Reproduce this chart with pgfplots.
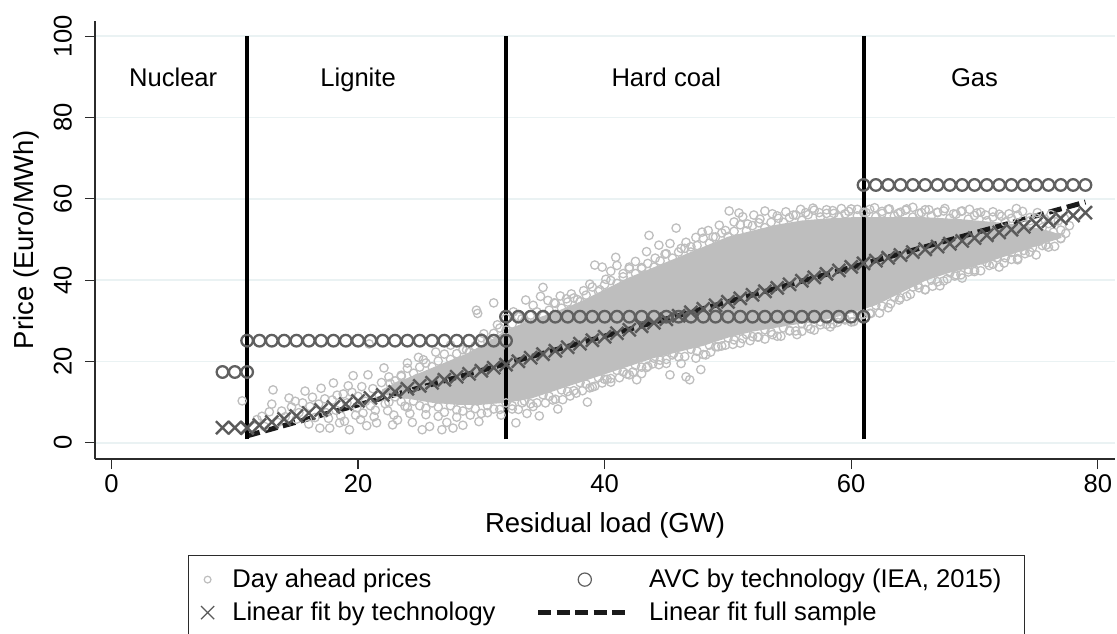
\documentclass[border=0pt]{standalone}
\usepackage{fontspec}
\setmainfont{Liberation Sans}
\usepackage{pgfplots}
\pgfplotsset{compat=1.18}
\definecolor{cloud}{HTML}{BEBEBE}
\definecolor{avc}{HTML}{606060}
\definecolor{fitc}{HTML}{5A5A5A}
\definecolor{dashc}{HTML}{1A1A1A}
\definecolor{gridc}{HTML}{EAF2F3}
\definecolor{axc}{HTML}{2B2B2B}
\newcommand{\fs}{\fontsize{12.8}{15}\selectfont}
\newcommand{\fl}{\fontsize{13.75}{16}\selectfont}
\begin{document}
\begin{tikzpicture}
\useasboundingbox (0,0) rectangle (558.5pt,316.5pt);
\clip (0,0) rectangle (558.5pt,316.5pt);
\begin{axis}[
  at={(47.5pt,87pt)}, anchor=south west,
  scale only axis, width=510pt, height=219.15pt,
  xmin=-1.34, xmax=81.4, ymin=-4.0, ymax=103.8,
  axis lines*=left,
  axis line style={draw=axc, line width=0.6pt},
  tick style={draw=axc, line width=0.6pt},
  tick align=outside, major tick length=5pt,
  xtick={0,20,40,60,80}, ytick={0,20,40,60,80,100},
  minor tick num=0,
  ymajorgrids, grid style={draw=gridc, line width=0.8pt},
  /pgf/number format/assume math mode=true,
  xticklabel style={font=\fs, anchor=base, yshift=-11.85pt},
  yticklabel style={font=\fs, xshift=-6.65pt, rotate=90, anchor=base},
  xlabel={Residual load (GW)},
  ylabel={Price (Euro/MWh)},
  xlabel style={font=\fl, at={(axis description cs:0.5,-0.1688)}, anchor=base},
  ylabel style={font=\fl, at={(axis description cs:-0.0605,0.5)}, anchor=base, rotate=0},
  legend columns=2,
  legend cell align=left,
  legend style={at={(axis description cs:0.09118,-0.21903)}, anchor=north west,
    draw=axc, line width=0.6pt, fill=white,
    inner xsep=0pt, inner ysep=3.75pt,
    column sep=0pt, row sep=0pt,
    font=\fs,
    nodes={inner sep=0pt, text height=12.25pt, text depth=4.25pt}},
]
% dense core of the price cloud
\addplot[fill=cloud, draw=cloud, line width=0.65pt, forget plot] coordinates {
(22,13) (23,14.5) (25,17) (27,19.5) (29,22) (31,25.5) (32,27.5) (34,30) (36,32)
(38,34.5) (40,37.5) (42,40.5) (44,43) (46,45.5) (48,48) (50,50.5) (52,52) (54,53.5) (56,54.5)
(58,55) (60,55.3) (63,55.3) (66,55.3) (69,54.8) (72,54) (74,53.3) (76,52) (77,51)
(77,50.5) (76,49.5) (74,47.5) (72,45.5) (70,43.5) (68,42) (66,40) (64,37) (62,34) (60,32)
(58,30.5) (56,29.5) (54,28.5) (52,27.5) (50,26) (48,24) (46,22.5) (44,21) (42,19) (40,17)
(38,15) (36,13) (34,11) (32,10) (30,9.5) (28,9.5) (26,10) (24,11) (22,12)
} -- cycle;
% day ahead prices (scatter)
\addplot[only marks, mark=o, color=cloud, mark size=2.1pt, mark options={line width=0.65pt},
  legend image code/.code={\path[draw=none,fill=none] (0pt,0pt) -- (19pt,0pt); \draw[cloud, line width=0.6pt, fill=none] (9.5pt,0pt) circle (1.7pt);}]
coordinates {
(10.6,10.3) (11.8,5.7) (12.4,4.0) (12.8,7.6) (13.1,13.0) (13.5,5.0) (14.1,6.4) (14.6,8.8)
(15.2,7.4) (15.7,12.7) (16.1,8.9) (16.5,6.2) (16.9,3.6) (17.0,13.4) (17.3,10.8) (17.7,3.6)
(18.0,14.7) (18.2,8.0) (18.5,4.9) (18.8,12.0) (19.1,9.8) (19.3,3.2) (19.6,16.5) (19.8,6.8)
(20.0,11.4) (20.2,5.7) (20.4,7.3) (20.8,16.7) (20.9,24.3) (21.0,9.1) (21.2,13.3) (21.5,4.9)
(21.7,11.8) (22.1,18.4) (22.4,7.9) (22.6,14.6) (22.8,4.4) (23.0,12.3) (23.2,5.6) (23.5,16.3)
(23.8,9.0) (24.0,19.6) (24.2,7.2) (24.6,13.8) (24.9,21.0) (25.2,3.2) (25.3,20.4) (25.5,6.9)
(25.8,4.0) (26.0,11.5) (26.3,22.3) (26.5,6.5) (26.8,3.2) (27.0,15.2) (27.2,5.0) (27.5,24.0)
(27.7,3.6) (28.0,6.3) (28.3,19.2) (28.5,4.3) (28.8,22.8) (29.1,6.8) (29.6,32.6) (29.7,31.8)
(29.8,5.2) (30.2,26.8) (30.5,7.4) (31.0,34.4) (31.3,29.0) (31.6,6.8) (32.0,30.6)
(18.3,11.7) (19.5,12.4) (20.6,10.2) (21.4,8.0) (17.6,6.0) (18.9,5.3) (14.9,10.2) (16.3,11.2)
(12.2,6.5) (13.0,9.5) (13.8,7.8) (14.4,11.0) (15.0,5.8) (15.5,9.8) (16.0,4.6) (16.8,9.5)
(17.4,7.4) (17.9,10.5) (18.6,6.6) (19.2,14.0) (19.9,8.6) (20.3,13.8) (20.7,4.2) (21.3,6.4)
(21.9,14.8) (22.2,9.6) (22.9,6.8) (23.3,14.0) (23.9,12.0) (24.4,5.0) (24.8,15.8) (25.6,13.0)
(26.2,16.8) (26.9,12.8) (27.4,17.6) (28.1,14.0) (28.7,11.2) (29.3,18.8) (29.9,15.2) (30.4,21.0)
(31.0,12.5) (31.5,23.2)
(32.6,32.2) (33.3,30.5) (33.6,35.1) (34.2,33.8) (34.8,36.0) (35.0,38.2) (35.4,35.0) (35.9,34.4)
(36.4,36.1) (36.9,35.4) (37.3,36.6) (37.8,35.2) (38.3,37.4) (38.8,39.0) (39.2,43.7) (39.6,37.6)
(39.8,43.2) (40.1,40.2) (40.5,42.2) (40.9,45.6) (41.0,43.6) (41.5,41.6) (42.0,43.2) (42.5,44.6)
(43.0,42.8) (43.4,47.0) (43.6,51.0) (44.1,45.4) (44.4,48.6) (44.9,46.4) (45.3,49.0) (45.8,52.8)
(46.2,47.8) (46.6,49.3) (47.0,48.2) (47.4,50.5) (47.9,51.8) (48.4,52.2) (48.8,50.6) (49.3,53.5)
(49.8,52.2) (50.1,57.0) (50.5,54.3) (50.9,56.5) (51.2,55.6) (51.6,53.8) (52.1,56.0) (52.6,55.0)
(53.0,57.0) (53.6,56.3) (54.1,55.2) (54.7,56.8) (55.3,56.0) (55.9,57.4) (56.3,56.6) (56.9,57.7)
(57.4,56.6) (58.0,57.3) (58.6,56.4) (59.2,57.6) (59.8,56.9) (60.5,57.4) (61.2,56.6) (61.9,57.8)
(62.5,56.9) (63.1,57.5) (63.8,56.4) (64.4,57.2) (65.0,57.9) (65.7,56.6) (66.3,57.3) (67.0,56.7)
(67.6,57.6) (68.3,56.3) (68.9,56.9) (69.6,57.4) (70.2,56.5) (70.9,56.0) (71.5,56.8) (72.2,55.7)
(72.8,56.3) (73.4,57.6) (73.9,56.9) (74.5,55.4) (75.1,56.6) (75.7,55.0) (76.2,56.1) (76.8,54.6)
(77.3,55.2) (77.7,53.4)
(32.5,8.3) (32.8,4.9) (33.3,9.8) (33.7,7.2) (34.2,8.9) (34.7,6.6) (35.2,9.8) (35.8,10.5)
(36.2,8.3) (36.6,10.6) (37.2,11.5) (37.7,12.2) (38.2,12.8) (38.6,10.0) (38.8,13.5) (39.2,13.9)
(39.8,14.7) (40.2,15.6) (40.5,14.9) (41.2,16.0) (41.8,16.9) (42.3,17.4) (42.6,15.5) (43.0,17.0)
(43.4,18.5) (43.9,19.4) (44.4,19.2) (45.0,20.5) (45.3,16.7) (45.6,22.0) (46.2,19.5) (46.6,16.2)
(46.9,15.5) (47.4,20.8) (47.8,18.0) (48.2,21.6) (48.6,22.3) (49.2,23.6) (49.8,24.0) (50.4,24.2)
(51.2,25.6) (51.8,25.1) (52.4,26.0) (53.0,25.5) (53.6,26.6) (54.3,26.2) (55.0,27.5) (55.6,26.6)
(56.0,27.4) (56.7,28.0) (57.5,29.0) (58.3,28.5) (58.9,29.6) (59.5,30.2) (60.2,29.8) (60.8,31.4)
(61.6,31.8) (62.3,31.9) (63.2,34.2) (63.9,35.1) (64.8,36.5) (65.4,38.8) (66.0,37.6) (66.6,38.5)
(67.2,38.6) (67.8,40.3) (68.4,41.0) (68.9,41.3) (69.5,42.0) (70.0,42.5) (70.6,45.0) (71.2,43.6)
(71.8,45.5) (72.4,44.2) (73.0,46.8) (73.5,45.0) (74.1,46.5) (74.7,48.0) (75.2,49.5) (75.8,48.6)
(76.4,51.8) (77.0,50.2) (77.4,51.5)
(22.5,16.2) (23.0,15.2) (23.5,16.6) (24.0,18.3) (24.5,17.1) (25.0,18.6) (25.5,19.6) (26.0,18.7)
(26.5,20.1) (27.0,21.8) (27.5,20.5) (28.0,21.9) (28.5,22.9) (29.0,22.2) (29.5,23.8) (30.0,25.8)
(30.5,25.0) (31.0,26.9) (31.5,28.2) (32.0,27.7) (32.5,29.2) (33.0,31.0) (33.5,29.9) (34.0,31.4)
(34.5,32.2) (35.0,31.2) (35.5,32.6) (36.0,34.3) (36.5,33.1) (37.0,34.6) (37.5,35.6) (38.0,34.7)
(38.5,36.3) (39.0,38.3) (39.5,37.2) (40.0,38.9) (40.5,39.9) (41.0,39.2) (41.5,40.8) (42.0,42.8)
(42.5,41.6) (43.0,43.1) (43.5,44.1) (44.0,43.2) (44.5,44.7) (45.0,46.5) (45.5,45.4) (46.0,46.9)
(46.5,47.8) (47.0,46.9) (47.5,48.5) (48.0,50.3) (48.5,49.1) (49.0,50.6) (49.5,51.6) (50.0,50.7)
(50.5,52.0) (51.0,53.6) (51.5,52.1) (52.0,53.4) (52.5,54.1) (53.0,52.9) (53.5,54.2) (54.0,55.8)
(54.5,54.2) (55.0,55.4) (55.5,56.0) (56.0,54.7) (56.5,56.1) (57.0,57.2) (57.5,55.5) (58.0,56.4)
(58.5,57.1) (59.0,55.5) (59.5,56.3) (60.0,57.5) (60.5,55.8) (61.0,56.7) (61.5,57.4) (62.0,55.6)
(62.5,56.4) (63.0,57.4) (63.5,55.8) (64.0,56.7) (64.5,57.5) (65.0,55.5) (65.5,56.4) (66.0,57.3)
(66.5,55.8) (67.0,56.6) (67.5,57.0) (68.0,55.2) (68.5,56.2) (69.0,57.0) (69.5,55.0) (70.0,55.9)
(70.5,56.7) (71.0,54.6) (71.5,55.5) (72.0,56.2) (72.5,54.3) (73.0,55.2) (73.5,56.0) (74.0,53.6)
(74.5,54.6) (75.0,55.3) (75.5,52.9) (76.0,53.9) (76.5,54.4) (77.0,52.3)
(22.5,10.0) (23.0,11.3) (23.5,10.1) (24.0,8.7) (24.5,10.25) (25.0,9.1) (25.5,8.5) (26.0,9.8)
(26.5,8.8) (27.0,7.5) (27.5,9.1) (28.0,8.1) (28.5,7.8) (29.0,9.3) (29.5,8.4) (30.0,7.2)
(30.5,9.1) (31.0,8.3) (31.5,8.2) (32.0,9.8) (32.5,9.1) (33.0,8.2) (33.5,10.25) (34.0,9.6)
(34.5,9.8) (35.0,11.8) (35.5,11.4) (36.0,10.7) (36.5,13.0) (37.0,12.6) (37.5,12.8) (38.0,14.8)
(38.5,14.4) (39.0,13.7) (39.5,16.0) (40.0,15.6) (40.5,15.8) (41.0,17.8) (41.5,17.4) (42.0,16.7)
(42.5,19.0) (43.0,18.6) (43.5,18.8) (44.0,20.8) (44.5,20.3) (45.0,19.5) (45.5,21.6) (46.0,21.1)
(46.5,21.2) (47.0,23.0) (47.5,22.5) (48.0,21.7) (48.5,24.0) (49.0,23.6) (49.5,23.8) (50.0,25.8)
(50.5,25.3) (51.0,24.5) (51.5,26.6) (52.0,26.1) (52.5,26.0) (53.0,27.8) (53.5,27.2) (54.0,26.2)
(54.5,28.25) (55.0,27.6) (55.5,27.5) (56.0,29.3) (56.5,28.7) (57.0,27.7) (57.5,29.75) (58.0,29.1)
(58.5,29.2) (59.0,31.0) (59.5,30.5) (60.0,29.7) (60.5,32.0) (61.0,31.6) (61.5,31.8) (62.0,33.8)
(62.5,33.6) (63.0,33.2) (63.5,35.75) (64.0,35.6) (64.5,36.0) (65.0,38.3) (65.5,38.1) (66.0,37.7)
(66.5,40.0) (67.0,39.6) (67.5,39.8) (68.0,41.8) (68.5,41.3) (69.0,40.5) (69.5,42.6) (70.0,42.1)
(70.5,42.3) (71.0,44.3) (71.5,43.9) (72.0,43.2) (72.5,45.5) (73.0,45.1) (73.5,45.3) (74.0,47.3)
(74.5,46.9) (75.0,46.2) (75.5,48.5) (76.0,48.1) (76.5,48.3) (77.0,50.3)
};
\addlegendentry{\makebox[154.5pt][l]{\hspace{2.85pt}Day ahead prices}}
% AVC by technology
\addplot[only marks, mark=o, color=avc, mark size=2.9pt, mark options={line width=1.15pt},
  legend image code/.code={\path[draw=none,fill=none] (0pt,0pt) -- (55.5pt,0pt); \draw[avc, line width=0.6pt, fill=none] (23.35pt,0pt) circle (3.3pt);}]
coordinates {
(9,17.4) (10,17.4) (11,17.4)
(11,25.1) (12,25.1) (13,25.1) (14,25.1) (15,25.1) (16,25.1) (17,25.1) (18,25.1) (19,25.1)
(20,25.1) (21,25.1) (22,25.1) (23,25.1) (24,25.1) (25,25.1) (26,25.1) (27,25.1) (28,25.1)
(29,25.1) (30,25.1) (31,25.1) (32,25.1)
(32,31.0) (33,31.0) (34,31.0) (35,31.0) (36,31.0) (37,31.0) (38,31.0) (39,31.0) (40,31.0)
(41,31.0) (42,31.0) (43,31.0) (44,31.0) (45,31.0) (46,31.0) (47,31.0) (48,31.0) (49,31.0)
(50,31.0) (51,31.0) (52,31.0) (53,31.0) (54,31.0) (55,31.0) (56,31.0) (57,31.0) (58,31.0)
(59,31.0) (60,31.0) (61,31.0)
(61,63.4) (62,63.4) (63,63.4) (64,63.4) (65,63.4) (66,63.4) (67,63.4) (68,63.4) (69,63.4)
(70,63.4) (71,63.4) (72,63.4) (73,63.4) (74,63.4) (75,63.4) (76,63.4) (77,63.4) (78,63.4)
(79,63.4)
};
\addlegendentry{\makebox[187.85pt][l]{AVC by technology (IEA, 2015)}}
% Linear fit by technology
\addplot[only marks, mark=x, color=fitc, mark size=4.6pt, mark options={line width=1.2pt},
  legend image code/.code={\path[draw=none,fill=none] (0pt,0pt) -- (19pt,0pt); \draw[fitc, line width=0.6pt] (6.2pt,-3.3pt) -- (12.8pt,3.3pt) (6.2pt,3.3pt) -- (12.8pt,-3.3pt);}]
coordinates {
(9,3.7) (10,3.7) (11,3.7)
(11,3.60) (12,4.34) (13,5.09) (14,5.83) (15,6.57) (16,7.32) (17,8.06) (18,8.80) (19,9.54)
(20,10.29) (21,11.03) (22,11.77) (23,12.52) (24,13.26) (25,14.00) (26,14.75) (27,15.49)
(28,16.23) (29,16.97) (30,17.72) (31,18.46) (32,19.20)
(33,20.06) (34,20.92) (35,21.78) (36,22.64) (37,23.50) (38,24.35) (39,25.21) (40,26.07)
(41,26.93) (42,27.79) (43,28.65) (44,29.51) (45,30.37) (46,31.23) (47,32.09) (48,32.94)
(49,33.80) (50,34.66) (51,35.52) (52,36.38) (53,37.24) (54,38.10) (55,38.96) (56,39.82)
(57,40.68) (58,41.53) (59,42.39) (60,43.25) (61,44.11)
(62,44.79) (63,45.49) (64,46.18) (65,46.88) (66,47.57) (67,48.26) (68,48.96) (69,49.65)
(70,50.35) (71,51.04) (72,51.73) (73,52.43) (74,53.12) (75,53.82) (76,54.51) (77,55.20)
(78,55.90) (79,56.59)
};
\addlegendentry{\makebox[154.5pt][l]{\hspace{2.85pt}Linear fit by technology}}
% Linear fit full sample
\addplot[color=dashc, line width=2.5pt, dash pattern=on 6.5pt off 2.75pt,
  legend image code/.code={\path[draw=none,fill=none] (0pt,0pt) -- (55.5pt,0pt); \draw[dashc, line width=2.5pt, dash pattern=on 6.5pt off 2.75pt] (0pt,0pt) -- (45pt,0pt);}]
coordinates {(11,1.7) (79,59.2)};
\addlegendentry{\makebox[187.85pt][l]{Linear fit full sample}}
% technology boundaries
\addplot[black, line width=2pt, forget plot] coordinates {(11,0.8) (11,100)};
\addplot[black, line width=2pt, forget plot] coordinates {(32,0.8) (32,100)};
\addplot[black, line width=2pt, forget plot] coordinates {(61,0.8) (61,100)};
\node[font=\fs, anchor=base] at (axis cs:5,87.7) {Nuclear};
\node[font=\fs, anchor=base] at (axis cs:20,87.7) {Lignite};
\node[font=\fs, anchor=base] at (axis cs:45,87.7) {Hard coal};
\node[font=\fs, anchor=base] at (axis cs:70,87.7) {Gas};
\end{axis}
\end{tikzpicture}
\end{document}
